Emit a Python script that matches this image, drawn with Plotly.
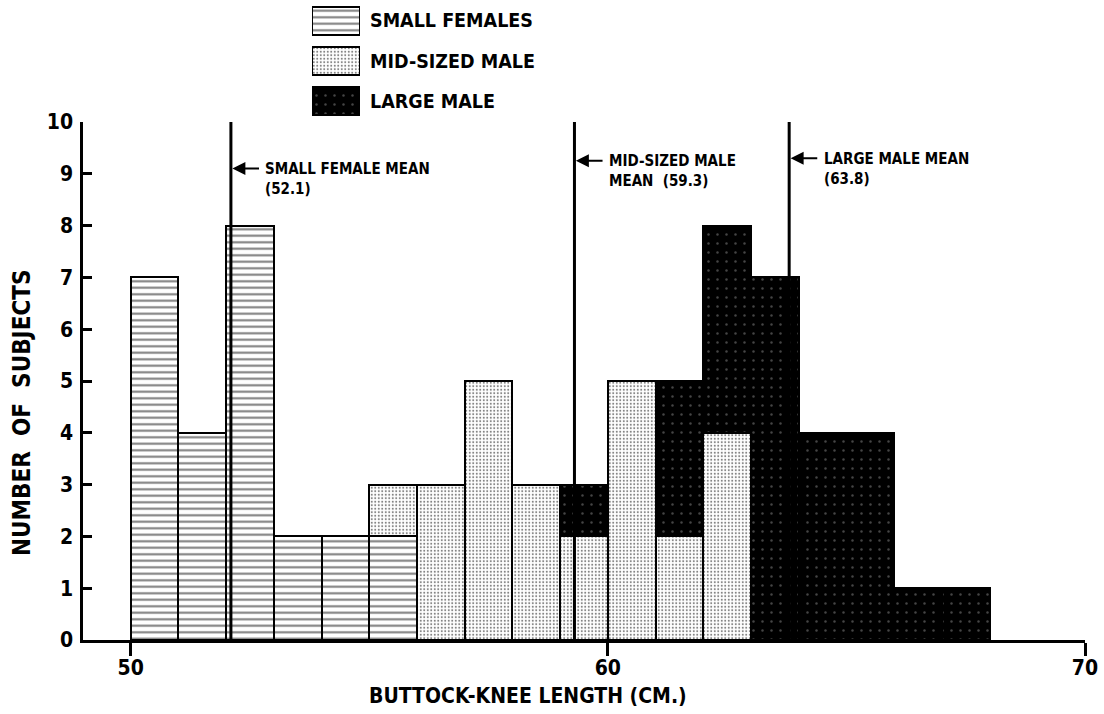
import plotly.graph_objects as go

# Histogram bins (left edge, cm) and subject counts per group
small_bins = [50, 51, 52, 53, 54, 55]
small_counts = [7, 4, 8, 2, 2, 2]

mid_bins = [55, 56, 57, 58, 59, 60, 61, 62]
mid_counts = [1, 3, 5, 3, 2, 5, 2, 4]

large_bins = [59, 61, 62, 63, 64, 65, 66, 67]
large_counts = [1, 3, 4, 7, 4, 4, 1, 1]

group_names = ["SMALL FEMALES", "MID-SIZED MALE", "LARGE MALE"]

# Group means (cm)
mean_values = [52.1, 59.3, 63.8]
mean_labels = ["SMALL FEMALE MEAN<br>(52.1)", "MID-SIZED MALE<br>MEAN  (59.3)", "LARGE MALE MEAN<br>(63.8)"]

x_ticks = [50, 60, 70]
y_ticks = list(range(0, 11))

FONT = "DejaVu Sans Condensed, DejaVu Sans, sans-serif"
W, H = 1104, 714
BIN_W = 1.0

patterns = [
    dict(shape="-", fgcolor="black", bgcolor="white", size=6.5, solidity=0.32),
    dict(shape=".", fgcolor="black", bgcolor="white", size=3.5, solidity=0.26),
    dict(shape=".", fgcolor="#8a8a8a", bgcolor="black", size=9, solidity=0.06),
]
outline = dict(color="black", width=2.5)


def centers(bins):
    return [b + BIN_W / 2 for b in bins]


fig = go.Figure()

for name, bins, counts, pat in zip(
    group_names,
    [small_bins, mid_bins, large_bins],
    [small_counts, mid_counts, large_counts],
    patterns,
):
    fig.add_trace(go.Bar(
        x=centers(bins), y=counts, width=BIN_W, name=name,
        marker=dict(color=pat["bgcolor"], pattern=pat, line=outline),
        showlegend=False, xaxis="x", yaxis="y",
    ))

# Swatches for the key, drawn on their own small axes
for i, (name, pat) in enumerate(zip(group_names, patterns)):
    fig.add_trace(go.Bar(
        x=[1], y=[i], orientation="h", width=0.69, name=name,
        marker=dict(color=pat["bgcolor"], pattern=pat, line=dict(color="black", width=2.5)),
        showlegend=False, xaxis="x2", yaxis="y2", hoverinfo="skip",
    ))

x_dom = [83 / W, 1085 / W]
y_dom = [(H - 640) / H, (H - 122) / H]

fig.update_layout(
    width=W, height=H,
    margin=dict(l=0, r=0, t=0, b=0, pad=0, autoexpand=False),
    paper_bgcolor="white", plot_bgcolor="white",
    barmode="stack", bargap=0,
    font=dict(family=FONT, color="black"),
    xaxis=dict(
        domain=x_dom, range=[49, 70], tickvals=x_ticks,
        ticks="outside", ticklen=13, tickwidth=2.5, tickcolor="black",
        showline=True, linewidth=2.5, linecolor="black",
        showgrid=False, zeroline=False, anchor="y", automargin=False,
        tickfont=dict(size=21, family=FONT, weight="bold"), ticklabelstandoff=-6,
    ),
    yaxis=dict(
        domain=y_dom, range=[0, 10], tickvals=y_ticks,
        ticks="inside", ticklen=9, tickwidth=2.5, tickcolor="black",
        showline=True, linewidth=2.5, linecolor="black",
        showgrid=False, zeroline=False, anchor="x", automargin=False,
        tickfont=dict(size=21, family=FONT, weight="bold"), ticklabelstandoff=3,
    ),
    xaxis2=dict(domain=[312 / W, 360 / W], range=[0, 1], visible=False, anchor="y2", fixedrange=True),
    yaxis2=dict(domain=[(H - 121) / H, (H - 1) / H], range=[2.5, -0.5], visible=False, anchor="x2", fixedrange=True),
)

# Key labels
for i, name in enumerate(group_names):
    fig.add_annotation(
        text=name, x=368 / W, xref="paper", xanchor="left",
        y=i, yref="y2", yanchor="middle", showarrow=False,
        font=dict(size=19.5, family=FONT, color="black", weight="bold"),
    )

# Mean lines with arrows and labels
line_tops = [10.1, 10.25, 10.35]
arrow_y = [9.1, 9.25, 9.3]
for m, lab, top, ay in zip(mean_values, mean_labels, line_tops, arrow_y):
    fig.add_shape(type="line", xref="x", yref="y", x0=m, x1=m, y0=0, y1=top,
                  line=dict(color="black", width=3))
    fig.add_annotation(
        x=m + 0.03, y=ay, xref="x", yref="y", ax=m + 0.62, ay=ay, axref="x", ayref="y",
        text="", showarrow=True, arrowhead=2, arrowsize=1.3, arrowwidth=2, arrowcolor="black",
    )
    fig.add_annotation(
        x=m + 0.68, y=ay + 0.2, xref="x", yref="y", xanchor="left", yanchor="top",
        text=lab, showarrow=False, align="left",
        font=dict(size=15, family=FONT, color="black", weight="bold"),
    )

# Axis titles
fig.add_annotation(
    text="BUTTOCK-KNEE LENGTH (CM.)", x=528 / W, y=(H - 696) / H, xref="paper", yref="paper",
    xanchor="center", yanchor="middle",
    showarrow=False, font=dict(size=21, family=FONT, color="black", weight="bold"),
)
fig.add_annotation(
    text="NUMBER  OF  SUBJECTS", x=22 / W, y=(H - 413) / H, xref="paper", yref="paper",
    xanchor="center", yanchor="middle",
    showarrow=False, textangle=-90, font=dict(size=24, family=FONT, color="black", weight="bold"),
)

fig.write_html("out.html")
